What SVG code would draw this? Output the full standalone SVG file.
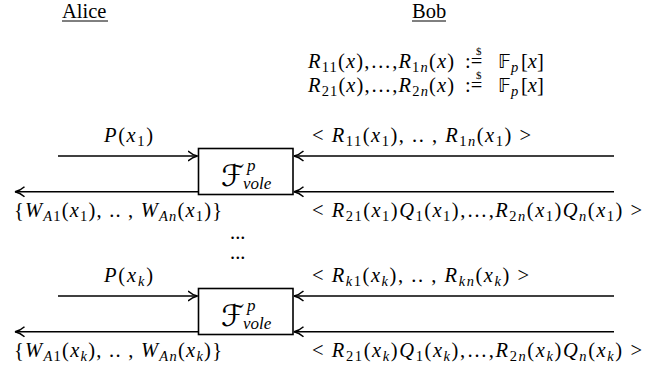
<svg xmlns="http://www.w3.org/2000/svg" width="662" height="372" viewBox="0 0 662 372" xml:space="preserve">
<style>
.t{font-family:"Liberation Serif","Times New Roman",serif;font-size:20.5px;fill:#000}
.i{font-style:italic}
.s{font-size:14.5px}
.ln{stroke:#000;stroke-width:1.6;fill:none}
.ul{stroke:#000;stroke-width:1;fill:none}
.bx{stroke:#000;stroke-width:1.6;fill:#fff}
.f{font-family:"DejaVu Serif","DejaVu Sans",serif;font-size:30px;font-style:italic;fill:#000}
.ds{font-family:"DejaVu Sans","DejaVu Serif",sans-serif;font-size:19px;fill:#000}
.sm{font-size:11px}
.v{font-size:17px}
</style>
<defs>
<marker id="ah" markerWidth="12" markerHeight="12" refX="10" refY="6" orient="auto" markerUnits="userSpaceOnUse"><path d="M0.5,1 Q5,5 10,6 Q5,7 0.5,11" fill="none" stroke="#000" stroke-width="1.5"/></marker>
</defs>
<g id="alice"><text class="t" x="62" y="17.5">Alice</text><line class="ul" x1="62" y1="21" x2="108" y2="21"/></g>
<g id="bob"><text class="t" x="412" y="17.5">Bob</text><line class="ul" x1="412" y1="21" x2="446" y2="21"/></g>
<g id="setup">
<text class="t" x="308" y="68" textLength="146" lengthAdjust="spacing"><tspan class="i">R</tspan><tspan class="s" dy="4">11</tspan><tspan dy="-4">(</tspan><tspan class="i">x</tspan>),…,<tspan class="i">R</tspan><tspan class="s" dy="4">1</tspan><tspan class="s i">n</tspan><tspan dy="-4">(</tspan><tspan class="i">x</tspan>)</text>
<text class="t" x="465" y="68">:=</text><text class="t sm" x="476" y="55">$</text>
<text class="ds" x="498" y="68">𝔽</text><text class="t s i" x="511" y="72">p</text><text class="t" x="521" y="68">[<tspan class="i">x</tspan>]</text>
<text class="t" x="308" y="92" textLength="146" lengthAdjust="spacing"><tspan class="i">R</tspan><tspan class="s" dy="4">21</tspan><tspan dy="-4">(</tspan><tspan class="i">x</tspan>),…,<tspan class="i">R</tspan><tspan class="s" dy="4">2</tspan><tspan class="s i">n</tspan><tspan dy="-4">(</tspan><tspan class="i">x</tspan>)</text>
<text class="t" x="465" y="92">:=</text><text class="t sm" x="476" y="79">$</text>
<text class="ds" x="498" y="92">𝔽</text><text class="t s i" x="511" y="96">p</text><text class="t" x="521" y="92">[<tspan class="i">x</tspan>]</text>
</g>
<g id="vole1">
<rect class="bx" x="198.5" y="148.5" width="94.5" height="46"/>
<text class="f" x="221" y="186">ℱ</text><text class="t i v" x="247" y="171">p</text><text class="t i v" x="243" y="189">vole</text>
</g>
<g id="volek">
<rect class="bx" x="198.5" y="288.5" width="94.5" height="46"/>
<text class="f" x="221" y="326">ℱ</text><text class="t i v" x="247" y="311">p</text><text class="t i v" x="243" y="329">vole</text>
</g>
<g id="connectors">
<line class="ln" x1="58" y1="156" x2="197.5" y2="156" marker-end="url(#ah)"/>
<line class="ln" x1="198" y1="191.7" x2="15" y2="191.7" marker-end="url(#ah)"/>
<line class="ln" x1="614" y1="156" x2="294" y2="156" marker-end="url(#ah)"/>
<line class="ln" x1="614" y1="191.7" x2="294" y2="191.7" marker-end="url(#ah)"/>
<line class="ln" x1="58" y1="296" x2="197.5" y2="296" marker-end="url(#ah)"/>
<line class="ln" x1="198" y1="331.7" x2="15" y2="331.7" marker-end="url(#ah)"/>
<line class="ln" x1="614" y1="296" x2="294" y2="296" marker-end="url(#ah)"/>
<line class="ln" x1="614" y1="331.7" x2="294" y2="331.7" marker-end="url(#ah)"/>
</g>
<g id="labels1">
<text class="t" x="104" y="142" textLength="49" lengthAdjust="spacing"><tspan class="i">P</tspan>(<tspan class="i">x</tspan><tspan class="s" dy="4">1</tspan><tspan dy="-4">)</tspan></text>
<text class="t" x="312" y="142" textLength="219" lengthAdjust="spacing">&lt; <tspan class="i">R</tspan><tspan class="s" dy="4">11</tspan><tspan dy="-4">(</tspan><tspan class="i">x</tspan><tspan class="s" dy="4">1</tspan><tspan dy="-4">), .. , </tspan><tspan class="i">R</tspan><tspan class="s" dy="4">1</tspan><tspan class="s i">n</tspan><tspan dy="-4">(</tspan><tspan class="i">x</tspan><tspan class="s" dy="4">1</tspan><tspan dy="-4">) &gt;</tspan></text>
<text class="t" x="14" y="217" textLength="208" lengthAdjust="spacing">{<tspan class="i">W</tspan><tspan class="s i" dy="4">A</tspan><tspan class="s">1</tspan><tspan dy="-4">(</tspan><tspan class="i">x</tspan><tspan class="s" dy="4">1</tspan><tspan dy="-4">), .. , </tspan><tspan class="i">W</tspan><tspan class="s i" dy="4">An</tspan><tspan dy="-4">(</tspan><tspan class="i">x</tspan><tspan class="s" dy="4">1</tspan><tspan dy="-4">)}</tspan></text>
<text class="t" x="312" y="217" textLength="330" lengthAdjust="spacing">&lt; <tspan class="i">R</tspan><tspan class="s" dy="4">21</tspan><tspan dy="-4">(</tspan><tspan class="i">x</tspan><tspan class="s" dy="4">1</tspan><tspan dy="-4">)</tspan><tspan class="i">Q</tspan><tspan class="s" dy="4">1</tspan><tspan dy="-4">(</tspan><tspan class="i">x</tspan><tspan class="s" dy="4">1</tspan><tspan dy="-4">),…,</tspan><tspan class="i">R</tspan><tspan class="s" dy="4">2</tspan><tspan class="s i">n</tspan><tspan dy="-4">(</tspan><tspan class="i">x</tspan><tspan class="s" dy="4">1</tspan><tspan dy="-4">)</tspan><tspan class="i">Q</tspan><tspan class="s i" dy="4">n</tspan><tspan dy="-4">(</tspan><tspan class="i">x</tspan><tspan class="s" dy="4">1</tspan><tspan dy="-4">) &gt;</tspan></text>
</g>
<g id="dots">
<text class="t" x="230" y="239">...</text>
<text class="t" x="230" y="259">...</text>
</g>
<g id="labelsk">
<text class="t" x="104" y="282" textLength="49" lengthAdjust="spacing"><tspan class="i">P</tspan>(<tspan class="i">x</tspan><tspan class="s i" dy="4">k</tspan><tspan dy="-4">)</tspan></text>
<text class="t" x="312" y="282" textLength="217" lengthAdjust="spacing">&lt; <tspan class="i">R</tspan><tspan class="s i" dy="4">k</tspan><tspan class="s">1</tspan><tspan dy="-4">(</tspan><tspan class="i">x</tspan><tspan class="s i" dy="4">k</tspan><tspan dy="-4">), .. , </tspan><tspan class="i">R</tspan><tspan class="s i" dy="4">kn</tspan><tspan dy="-4">(</tspan><tspan class="i">x</tspan><tspan class="s i" dy="4">k</tspan><tspan dy="-4">) &gt;</tspan></text>
<text class="t" x="14" y="357" textLength="208" lengthAdjust="spacing">{<tspan class="i">W</tspan><tspan class="s i" dy="4">A</tspan><tspan class="s">1</tspan><tspan dy="-4">(</tspan><tspan class="i">x</tspan><tspan class="s i" dy="4">k</tspan><tspan dy="-4">), .. , </tspan><tspan class="i">W</tspan><tspan class="s i" dy="4">An</tspan><tspan dy="-4">(</tspan><tspan class="i">x</tspan><tspan class="s i" dy="4">k</tspan><tspan dy="-4">)}</tspan></text>
<text class="t" x="312" y="357" textLength="330" lengthAdjust="spacing">&lt; <tspan class="i">R</tspan><tspan class="s" dy="4">21</tspan><tspan dy="-4">(</tspan><tspan class="i">x</tspan><tspan class="s i" dy="4">k</tspan><tspan dy="-4">)</tspan><tspan class="i">Q</tspan><tspan class="s" dy="4">1</tspan><tspan dy="-4">(</tspan><tspan class="i">x</tspan><tspan class="s i" dy="4">k</tspan><tspan dy="-4">),…,</tspan><tspan class="i">R</tspan><tspan class="s" dy="4">2</tspan><tspan class="s i">n</tspan><tspan dy="-4">(</tspan><tspan class="i">x</tspan><tspan class="s i" dy="4">k</tspan><tspan dy="-4">)</tspan><tspan class="i">Q</tspan><tspan class="s i" dy="4">n</tspan><tspan dy="-4">(</tspan><tspan class="i">x</tspan><tspan class="s i" dy="4">k</tspan><tspan dy="-4">) &gt;</tspan></text>
</g>
</svg>
